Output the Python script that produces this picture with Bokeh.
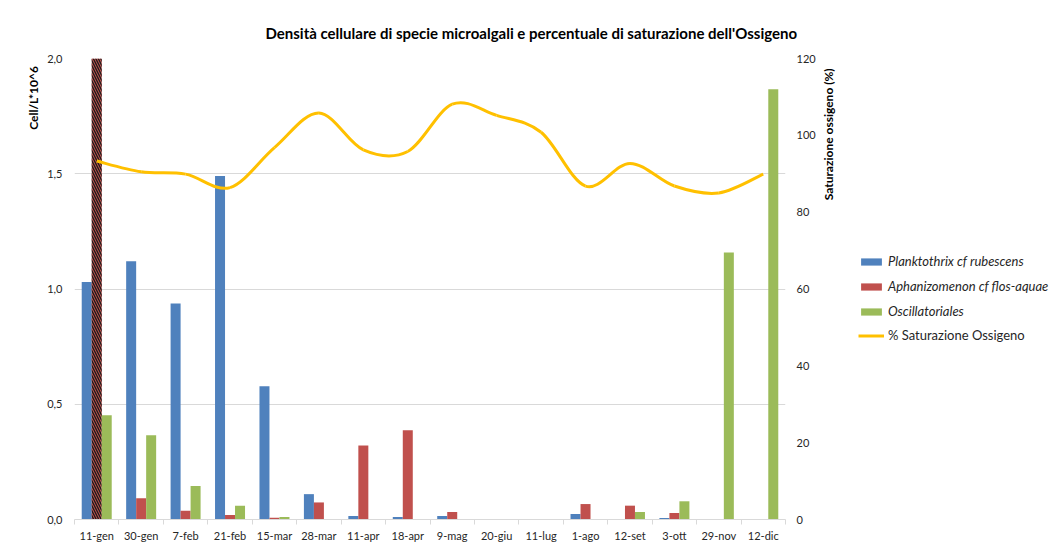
from bokeh.plotting import figure
from bokeh.layouts import row
from bokeh.models import (Range1d, LinearAxis, FixedTicker, Legend, LegendItem,
                          Label, ColumnDataSource, Title)
from bokeh.embed import file_html
from bokeh.resources import INLINE

# ---------------- data ----------------
dates = ["11-gen", "30-gen", "7-feb", "21-feb", "15-mar", "28-mar", "11-apr", "18-apr",
         "9-mag", "20-giu", "11-lug", "1-ago", "12-set", "3-ott", "29-nov", "12-dic"]
planktothrix = [1.03, 1.12, 0.937, 1.49, 0.578, 0.11, 0.015, 0.011,
                0.015, 0.002, 0.0, 0.024, 0.002, 0.006, 0.002, 0.002]
aphanizomenon = [2.0, 0.092, 0.038, 0.019, 0.008, 0.074, 0.321, 0.387,
                 0.032, 0.0, 0.002, 0.067, 0.06, 0.028, 0.002, 0.0]
oscillatoriales = [0.452, 0.366, 0.145, 0.06, 0.011, 0.0, 0.0, 0.0,
                   0.0, 0.0, 0.0, 0.0, 0.032, 0.079, 1.158, 1.867]
saturazione = [93.3, 90.5, 89.9, 86.4, 96.8, 105.8, 96.2, 95.8,
               108.1, 105.2, 100.8, 86.8, 92.7, 86.8, 85.0, 89.9]
left_ticks = [0.0, 0.5, 1.0, 1.5, 2.0]
left_tick_labels = ["0,0", "0,5", "1,0", "1,5", "2,0"]
right_ticks = [0, 20, 40, 60, 80, 100, 120]

BLUE, RED, GREEN, GOLD = "#4F81BD", "#C0504D", "#9BBB59", "#FFC000"
FONT = "Lato"
TXT = "#262626"
H = 544

n = len(dates)
centers = [i + 0.5 for i in range(n)]
bw = 0.225

src = ColumnDataSource(dict(
    xc=centers,
    xb=[c - bw for c in centers],
    xg=[c + bw for c in centers],
    blue=planktothrix, red=aphanizomenon, green=oscillatoriales, o2=saturazione,
    hatch=["left_diagonal_line"] + ["blank"] * (n - 1),
))


def bare(w):
    # frames of plots in a row are aligned with the main chart's frame,
    # so the same value range as the main chart is used vertically
    f = figure(width=w, height=H, x_range=Range1d(0, w), y_range=Range1d(0, 2.0),
               output_backend="svg", toolbar_location=None,
               x_axis_location=None, y_axis_location=None, min_border=0)
    f.grid.visible = False
    f.outline_line_color = None
    return f


# ---------------- left strip (axis title) ----------------
left = bare(42)
left.add_layout(Label(x=33, y=1.829, text="Cell/L*10^6", angle=1.5708,
                      text_align="center", text_baseline="middle", text_font=FONT,
                      text_font_size="12px", text_font_style="bold", text_color="black"))

# ---------------- main chart ----------------
p = figure(width=776, height=H, x_range=Range1d(0, n), y_range=Range1d(0, 2.0),
           output_backend="svg", toolbar_location=None,
           min_border_left=32, min_border_right=33, min_border_top=58, min_border_bottom=5)
p.extra_y_ranges = {"o2": Range1d(0, 120)}
p.outline_line_color = None
p.xgrid.visible = False
p.ygrid.grid_line_color = "#D9D9D9"
p.ygrid.ticker = FixedTicker(ticks=left_ticks)

ttl = Title(text="Densità cellulare di specie microalgali e percentuale di saturazione dell'Ossigeno",
            align="left", offset=191, text_font=FONT, text_font_size="15px",
            text_font_style="bold", text_color="black", standoff=34)
p.add_layout(ttl, "above")

xa = p.xaxis[0]
xa.ticker = FixedTicker(ticks=centers, minor_ticks=list(range(n + 1)))
xa.major_label_overrides = {c: d for c, d in zip(centers, dates)}
xa.major_tick_out = 0
xa.major_tick_in = 0
xa.minor_tick_out = 5
xa.minor_tick_in = 0
xa.minor_tick_line_color = "#D9D9D9"
xa.axis_line_color = "#D9D9D9"
xa.major_label_standoff = 4
xa.major_label_text_font = FONT
xa.major_label_text_font_size = "11px"
xa.major_label_text_color = TXT

ya = p.yaxis[0]
ya.ticker = FixedTicker(ticks=left_ticks)
ya.major_label_overrides = {t: l for t, l in zip(left_ticks, left_tick_labels)}
ya.axis_line_color = None
ya.major_tick_out = 0
ya.major_tick_in = 0
ya.minor_tick_out = 0
ya.minor_tick_in = 0
ya.major_label_standoff = 12
ya.major_label_text_font = FONT
ya.major_label_text_font_size = "11px"
ya.major_label_text_color = TXT

ra = LinearAxis(y_range_name="o2", ticker=FixedTicker(ticks=right_ticks))
ra.axis_line_color = None
ra.major_tick_out = 0
ra.major_tick_in = 0
ra.minor_tick_out = 0
ra.minor_tick_in = 0
ra.major_label_standoff = 11
ra.major_label_text_font = FONT
ra.major_label_text_font_size = "11px"
ra.major_label_text_color = TXT
p.add_layout(ra, "right")

p.vbar(x="xb", top="blue", width=bw, source=src, fill_color=BLUE, line_color=None)
p.vbar(x="xc", top="red", width=bw, source=src, fill_color=RED, line_color=None,
       hatch_pattern="hatch", hatch_color="#1a1a1a", hatch_weight=1.3, hatch_scale=5)
p.vbar(x="xg", top="green", width=bw, source=src, fill_color=GREEN, line_color=None)

# smoothed line: Bezier segments through the data points (Catmull-Rom tangents)
x0, y0, x1, y1, cx0, cy0, cx1, cy1 = [], [], [], [], [], [], [], []
for i in range(n - 1):
    a = max(i - 1, 0)
    d = min(i + 2, n - 1)
    x0.append(centers[i]); y0.append(saturazione[i])
    x1.append(centers[i + 1]); y1.append(saturazione[i + 1])
    cx0.append(centers[i] + (centers[i + 1] - centers[a]) / 6)
    cy0.append(saturazione[i] + (saturazione[i + 1] - saturazione[a]) / 6)
    cx1.append(centers[i + 1] - (centers[d] - centers[i]) / 6)
    cy1.append(saturazione[i + 1] - (saturazione[d] - saturazione[i]) / 6)
p.bezier(x0=x0, y0=y0, x1=x1, y1=y1, cx0=cx0, cy0=cy0, cx1=cx1, cy1=cy1,
         line_color=GOLD, line_width=3, y_range_name="o2")

# ---------------- right strip (axis title + legend) ----------------
side = bare(233)
side.add_layout(Label(x=10, y=1.671, text="Saturazione ossigeno (%)", angle=1.5708,
                      text_align="center", text_baseline="middle", text_font=FONT,
                      text_font_size="12px", text_font_style="bold", text_color="black"))

# legend keys: same series, renderers hidden so only the legend swatches show
kb = side.vbar(x="xb", top="blue", width=bw, source=src, fill_color=BLUE, line_color=None, visible=False)
kr = side.vbar(x="xc", top="red", width=bw, source=src, fill_color=RED, line_color=None, visible=False)
kg = side.vbar(x="xg", top="green", width=bw, source=src, fill_color=GREEN, line_color=None, visible=False)
kl = side.line(x="xc", y="o2", source=src, line_color=GOLD, line_width=3, visible=False)


def style(lg, italic):
    lg.border_line_color = None
    lg.background_fill_alpha = 0
    lg.inactive_fill_alpha = 0
    lg.padding = 0
    lg.margin = 0
    lg.spacing = 9
    lg.glyph_width = 26
    lg.glyph_height = 9
    lg.label_height = 9
    lg.label_standoff = 4
    lg.label_text_font = FONT
    lg.label_text_font_size = "13px"
    lg.label_text_color = TXT
    lg.label_text_font_style = "italic" if italic else "normal"


lg1 = Legend(items=[LegendItem(label="Planktothrix cf rubescens", renderers=[kb]),
                    LegendItem(label="Aphanizomenon cf flos-aquae", renderers=[kr]),
                    LegendItem(label="Oscillatoriales", renderers=[kg])],
             location=(40, 200))
style(lg1, True)
side.add_layout(lg1)

lg2 = Legend(items=[LegendItem(label="% Saturazione Ossigeno", renderers=[kl])],
             location=(40, 176))
style(lg2, False)
side.add_layout(lg2)

layout = row(left, p, side, spacing=0)
open("out.html", "w").write(file_html(layout, INLINE))
